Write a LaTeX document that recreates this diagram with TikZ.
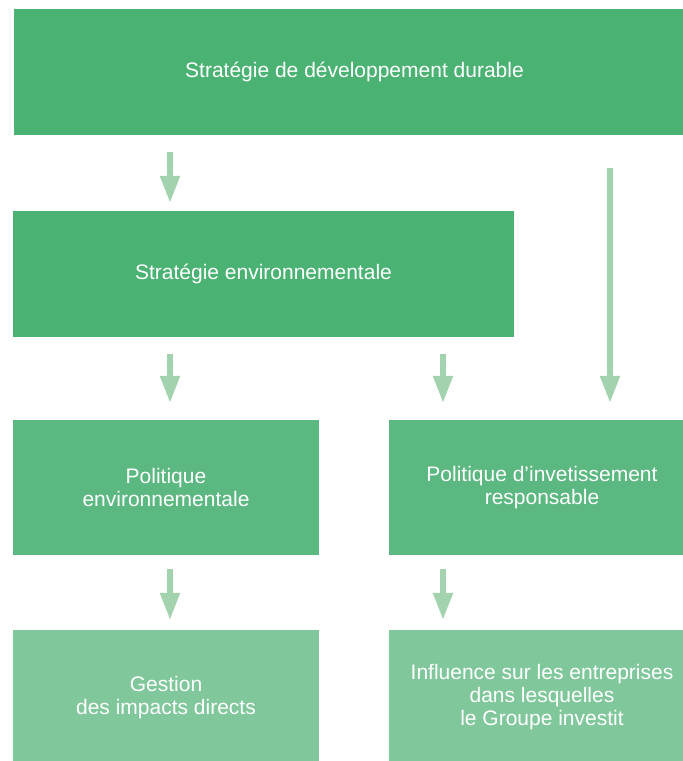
\documentclass[tikz,border=0pt]{standalone}
\usepackage{fontspec}
\setmainfont{Liberation Sans}
\usepackage{xcolor}
\usetikzlibrary{arrows.meta}

\definecolor{darkgreen}{HTML}{4AB272}
\definecolor{midgreen}{HTML}{5BB880}
\definecolor{lightgreen}{HTML}{80C89B}
\definecolor{arrowgreen}{HTML}{A3D3AE}

\tikzset{
  box/.style={rectangle, inner sep=0pt, text=white, align=center,
    font=\fontsize{21}{23}\selectfont},
  arr/.style={-{Triangle[width=19pt,length=27pt]}, line width=5.3pt, draw=arrowgreen}
}

\begin{document}
\begin{tikzpicture}[x=1pt,y=1pt]

\clip (0,0) rectangle (683,761);

\node[box, fill=darkgreen, minimum width=681pt, minimum height=126pt] (SDD) at (354.5,689) {Stratégie de développement durable};
\node[box, fill=darkgreen, minimum width=501pt, minimum height=126pt] (SE) at (263.5,487) {Stratégie environnementale};
\node[box, fill=midgreen, minimum width=306pt, minimum height=135pt] (PE) at (166,273.5) {Politique\\environnementale};
\node[box, fill=midgreen, minimum width=306pt, minimum height=135pt] (PIR) at (542,273.5) {Politique d’invetissement\\responsable};
\node[box, fill=lightgreen, minimum width=306pt, minimum height=135pt] (GID) at (166,63.5) {Gestion\\des impacts directs};
\node[box, fill=lightgreen, minimum width=306pt, minimum height=135pt] (ISE) at (542,63.5) {Influence sur les entreprises\\dans lesquelles\\le Groupe investit};

\coordinate (colA) at (170,0);
\coordinate (colB) at (443,0);
\coordinate (colC) at (610,0);

\draw[arr, shorten <=17pt, shorten >=8pt] (SDD.south -| colA) -- (SE.north -| colA);
\draw[arr, shorten <=33pt, shorten >=17pt] (SDD.south -| colC) -- (PIR.north -| colC);
\draw[arr, shorten <=17pt, shorten >=17pt] (SE.south -| colA) -- (PE.north -| colA);
\draw[arr, shorten <=17pt, shorten >=17pt] (SE.south -| colB) -- (PIR.north -| colB);
\draw[arr, shorten <=14pt, shorten >=10pt] (PE.south -| colA) -- (GID.north -| colA);
\draw[arr, shorten <=14pt, shorten >=10pt] (PIR.south -| colB) -- (ISE.north -| colB);

\end{tikzpicture}
\end{document}
